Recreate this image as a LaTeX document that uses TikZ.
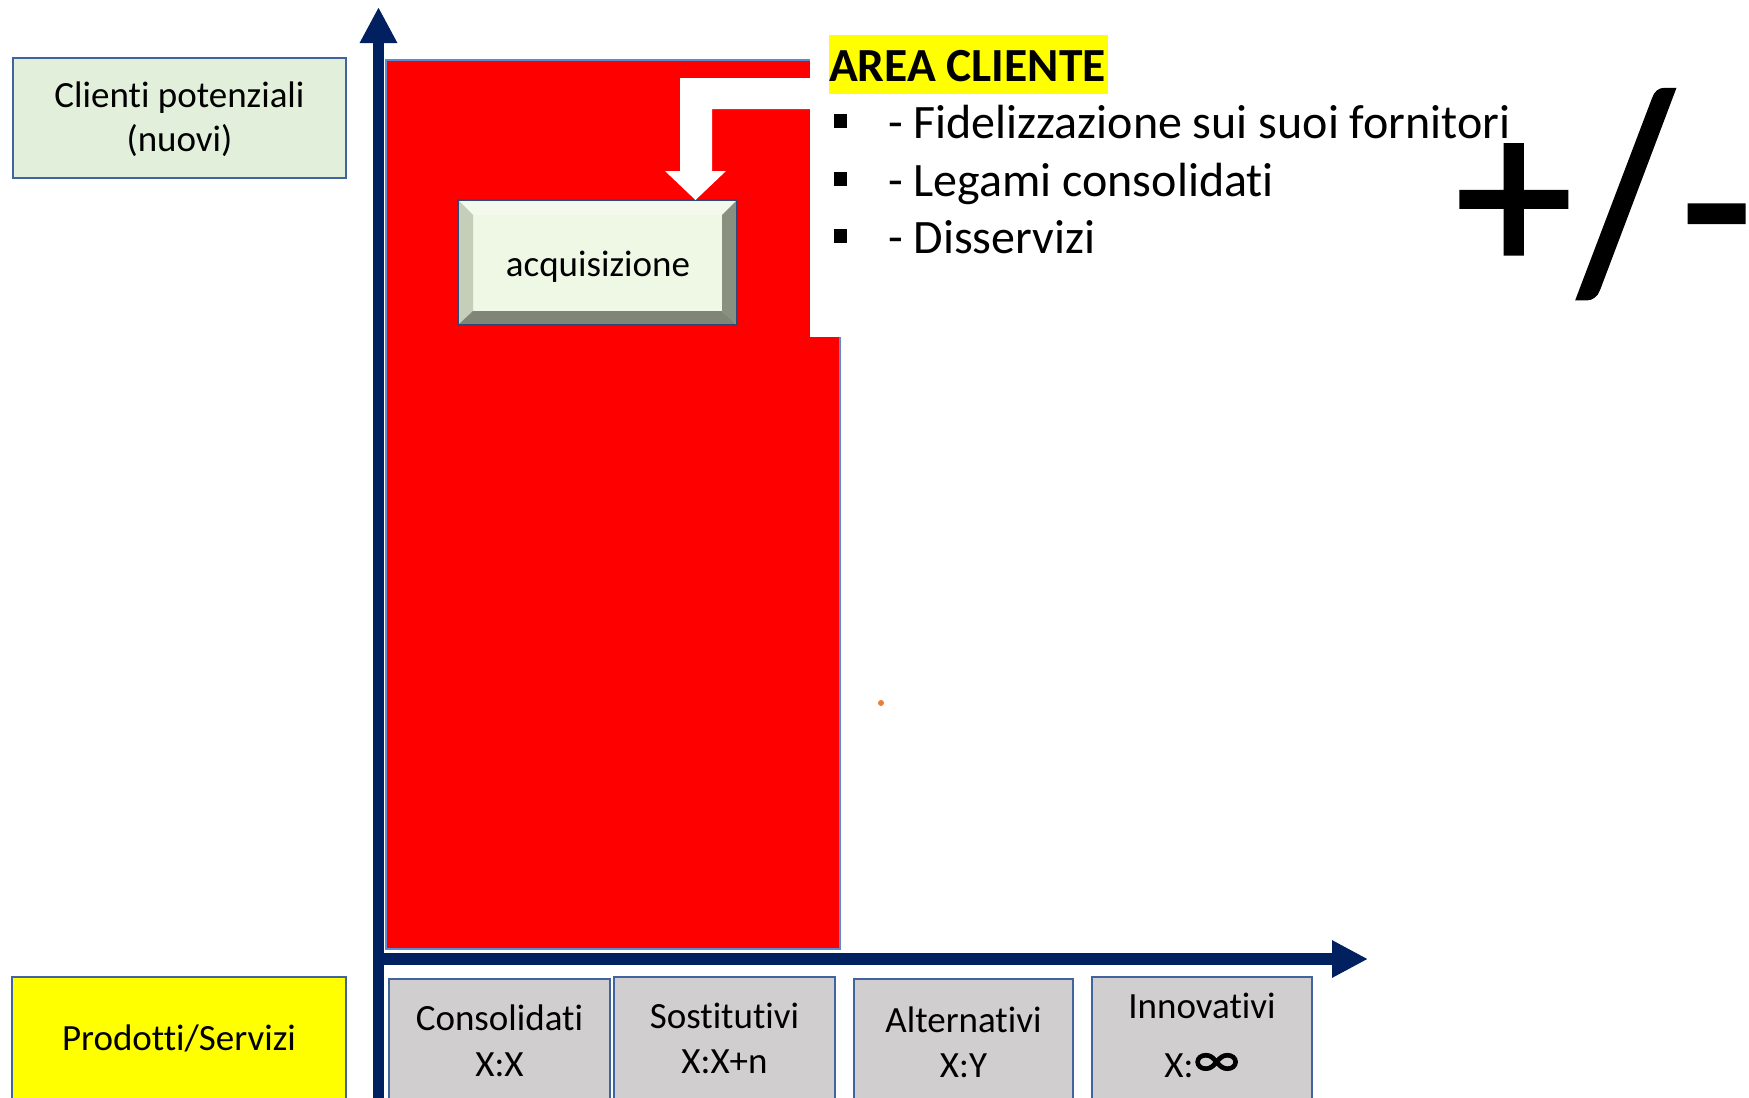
\documentclass[tikz,border=0pt]{standalone}
\usepackage{fontspec}
\setmainfont{Carlito}[Ligatures={NoCommon,NoContextual}]
\newfontfamily\pmfont{Carlito}[FakeBold=1.7]
\newcommand{\tinolig}{t\kern0pt i}
\usetikzlibrary{arrows.meta}
\definecolor{navy}{HTML}{002060}
\definecolor{boxblue}{HTML}{41649F}
\definecolor{redblue}{HTML}{5B8BD5}
\definecolor{lgreen}{HTML}{E2EFDA}
\definecolor{gbox}{HTML}{D0CECE}
\definecolor{yel}{HTML}{FFFF00}
\definecolor{face}{HTML}{EEF8E4}
\definecolor{bevtop}{HTML}{F3F9EC}
\definecolor{bevleft}{HTML}{C5CEB9}
\definecolor{bevright}{HTML}{8A9080}
\definecolor{bevbot}{HTML}{7F8577}
\definecolor{acqborder}{HTML}{2E4A7A}
\definecolor{dot}{HTML}{ED7D31}
\begin{document}
\begin{tikzpicture}[x=1pt,y=-1pt,
  every node/.style={inner sep=0pt,outer sep=0pt},
  plainbox/.style={draw=boxblue,line width=2.5pt,rectangle},
  lbl/.style={font=\fontsize{37}{44}\selectfont,anchor=base},
  axisline/.style={draw=navy,line width=11.5pt,line cap=butt,-{Triangle[width=35pt,length=36pt]}},
  bullettext/.style={font=\fontsize{48}{56}\selectfont,anchor=base west}]
\useasboundingbox (0,0) rectangle (1749,1098);
\clip (0,0) rectangle (1749,1098);
% red area
\node[draw=redblue,line width=2pt,fill=red,minimum width=454pt,minimum height=889pt] (redarea) at (613,504.5) {};
% left label boxes
\node[plainbox,fill=lgreen,minimum width=333pt,minimum height=120pt] (clienti) at (179.5,118) {};
\node[lbl] (clienti1) at (179.5,107) {Clien\tinolig{} potenziali};
\node[lbl] (clienti2) at (179.5,151) {(nuovi)};
\node[plainbox,fill=yel,minimum width=334pt,minimum height=140pt] (prod) at (179,1047) {};
\node[lbl] (prodt) at (179,1050) {Prodot\tinolig/Servizi};
% bottom category boxes
\node[plainbox,fill=gbox,minimum width=221pt,minimum height=140pt] (cons) at (499.5,1049) {};
\node[lbl] (cons1) at (499.5,1030) {Consolida\tinolig};
\node[lbl] (cons2) at (499.5,1076) {X:X};
\node[plainbox,fill=gbox,minimum width=221pt,minimum height=140pt] (sost) at (724.5,1047) {};
\node[lbl] (sost1) at (724.5,1028) {Sos\tinolig{}tu\tinolig{}vi};
\node[lbl] (sost2) at (724.5,1073) {X:X+n};
\node[plainbox,fill=gbox,minimum width=219pt,minimum height=140pt] (alt) at (963.5,1049) {};
\node[lbl] (alt1) at (963.5,1032) {Alterna\tinolig{}vi};
\node[lbl] (alt2) at (963.5,1077) {X:Y};
\node[plainbox,fill=gbox,minimum width=220pt,minimum height=140pt] (inn) at (1202,1047) {};
\node[lbl] (inn1) at (1202,1018) {Innova\tinolig{}vi};
\node[lbl] (inn2) at (1202,1077) {X:{\pmfont\fontsize{54}{60}\selectfont∞}};
% axes
\coordinate (ytip) at (378.5,7);
\coordinate (ybase) at (378.5,1110);
\coordinate (xtip) at (1368,959);
\coordinate (xbase) at (372.75,959);
\draw[axisline] (ybase) -- (ytip);
\draw[axisline] (xbase) -- (xtip);
% white text area covering the red
\node[fill=white,minimum width=500pt,minimum height=297pt,anchor=north west] (callout) at (810,40) {};
% acquisizione bevel box
\node[fill=face,minimum width=279pt,minimum height=125pt] (acq) at (597.5,262.5) {};
\fill[bevtop] (acq.north west) -- (acq.north east) -- ([xshift=-15pt,yshift=-15pt]acq.north east) -- ([xshift=15pt,yshift=-15pt]acq.north west) -- cycle;
\fill[bevleft] (acq.north west) -- ([xshift=15pt,yshift=-15pt]acq.north west) -- ([xshift=15pt,yshift=14pt]acq.south west) -- (acq.south west) -- cycle;
\fill[bevright] (acq.north east) -- ([xshift=-15pt,yshift=-15pt]acq.north east) -- ([xshift=-15pt,yshift=14pt]acq.south east) -- (acq.south east) -- cycle;
\fill[bevbot] (acq.south west) -- ([xshift=15pt,yshift=14pt]acq.south west) -- ([xshift=-15pt,yshift=14pt]acq.south east) -- (acq.south east) -- cycle;
\draw[acqborder,line width=2.5pt] (acq.north west) rectangle (acq.south east);
\node[lbl,font=\fontsize{37}{44}\selectfont] (acqt) at (598,276) {acquisizione};
% white bent arrow from the callout to the box
\coordinate (arrtip) at ([xshift=98pt]acq.north);
\fill[white] (callout.west |- 0,78) -- (680,78) -- (680,171) -- (665,171) -- (arrtip) -- (726,171) -- (712,171) -- (712,109) -- (callout.west |- 0,109) -- cycle;
% callout text
\fill[yel] (829,35) rectangle (1108,94);
\node[anchor=base west,font=\fontsize{47.5}{56}\bfseries\selectfont] (title) at (829,81) {AREA CLIENTE};
\fill (834,114) rectangle (847,128);
\fill (834,172) rectangle (847,186);
\fill (834,229) rectangle (847,243);
\node[bullettext] (b1) at (888,138) {- Fidelizzazione sui suoi fornitori};
\node[bullettext] (b2) at (888,196) {- Legami consolida\tinolig};
\node[bullettext] (b3) at (888,253) {- Disservizi};
% plus/minus
\node[anchor=base,font=\pmfont\fontsize{232}{260}\selectfont] (pmplus) at (1514,272.7) {+};
\node[anchor=base,font=\pmfont\fontsize{282}{320}\selectfont] (pmslash) at (1626,286) {\scalebox{0.85}[1]{/}};
\node[anchor=base,font=\pmfont\fontsize{232}{260}\selectfont] (pmminus) at (1716.5,279.2) {-};
% orange dot
\fill[dot] (881,703) circle (3pt);
\end{tikzpicture}
\end{document}
